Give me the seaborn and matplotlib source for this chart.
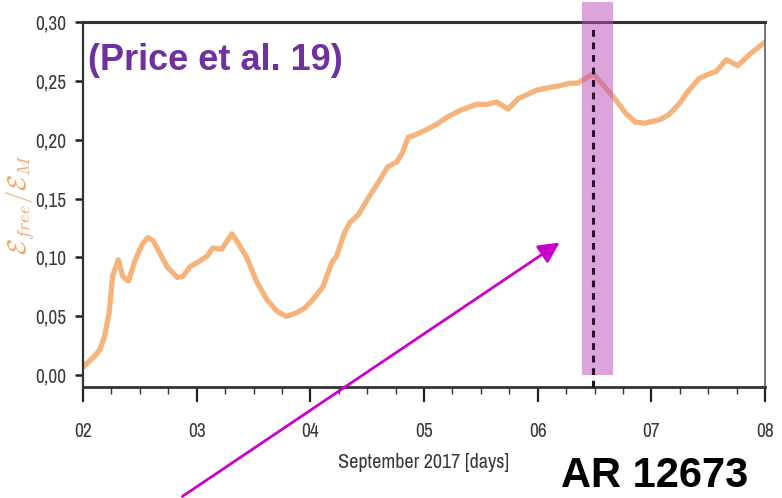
import matplotlib
matplotlib.use("Agg")
import matplotlib.pyplot as plt
from matplotlib.patches import Rectangle, FancyArrowPatch
from matplotlib.ticker import FixedLocator, MultipleLocator
import pandas as pd
import seaborn as sns

# Free-energy ratio of AR 12673, 2-8 September 2017
days = [2.00, 2.10, 2.15, 2.19, 2.23, 2.26, 2.31, 2.35, 2.40, 2.46, 2.52, 2.57,
        2.62, 2.68, 2.74, 2.83, 2.88, 2.94, 3.01, 3.09, 3.14, 3.22, 3.31, 3.36,
        3.44, 3.53, 3.62, 3.71, 3.79, 3.88, 3.95, 4.02, 4.11, 4.19, 4.23, 4.30,
        4.35, 4.42, 4.50, 4.60, 4.68, 4.76, 4.81, 4.86, 4.92, 5.01, 5.11, 5.20,
        5.32, 5.46, 5.55, 5.64, 5.74, 5.83, 5.90, 5.99, 6.08, 6.20, 6.28, 6.35,
        6.49, 6.58, 6.67, 6.77, 6.86, 6.94, 7.07, 7.15, 7.24, 7.33, 7.42, 7.51,
        7.57, 7.66, 7.76, 7.87, 7.95, 8.00]
ratio = [0.007, 0.016, 0.022, 0.033, 0.053, 0.084, 0.098, 0.084, 0.080, 0.098,
         0.111, 0.117, 0.114, 0.103, 0.092, 0.083, 0.084, 0.092, 0.096, 0.101,
         0.108, 0.107, 0.120, 0.113, 0.100, 0.079, 0.064, 0.054, 0.050, 0.053,
         0.057, 0.064, 0.075, 0.096, 0.101, 0.121, 0.130, 0.136, 0.149, 0.164,
         0.177, 0.181, 0.189, 0.202, 0.204, 0.208, 0.213, 0.219, 0.225, 0.230,
         0.230, 0.232, 0.226, 0.235, 0.238, 0.242, 0.244, 0.246, 0.248, 0.248,
         0.256, 0.246, 0.236, 0.223, 0.215, 0.214, 0.217, 0.221, 0.230, 0.242,
         0.252, 0.256, 0.258, 0.268, 0.263, 0.273, 0.279, 0.283]

x_ticks = [2, 3, 4, 5, 6, 7, 8]
x_labels = ["02", "03", "04", "05", "06", "07", "08"]
y_ticks = [0.00, 0.05, 0.10, 0.15, 0.20, 0.25, 0.30]
y_labels = ["0,00", "0,05", "0,10", "0,15", "0,20", "0,25", "0,30"]

flare_window = (6.39, 6.66)
flare_peak = 6.49

sns.set_theme(style="ticks")
narrow = ["Liberation Sans Narrow", "Archivo Narrow", "DejaVu Sans"]
bold_family = ["Liberation Sans", "DejaVu Sans"]
plt.rcParams["font.family"] = narrow
plt.rcParams["mathtext.fontset"] = "cm"

df = pd.DataFrame({"day": days, "ratio": ratio})

fig = plt.figure(figsize=(7.82, 4.98), dpi=100)
ax = fig.add_axes([83 / 782, 111 / 498, 682 / 782, 365 / 498])

line_color = "#F4A460"
sns.lineplot(data=df, x="day", y="ratio", ax=ax, color=line_color,
             linewidth=3.8, alpha=0.82)

ax.set_xlim(2, 8)
ax.set_ylim(-0.010, 0.300)

ax.xaxis.set_major_locator(FixedLocator(x_ticks))
ax.set_xticklabels(x_labels)
ax.xaxis.set_minor_locator(MultipleLocator(0.25))
ax.yaxis.set_major_locator(FixedLocator(y_ticks))
ax.set_yticklabels(y_labels)

tick_col = "#3a3a3a"
ax.tick_params(axis="x", which="major", length=11, width=1.6, color="#222222",
               pad=14, labelsize=14, labelcolor=tick_col)
ax.tick_params(axis="x", which="minor", length=5, width=1.0, color="#333333")
ax.tick_params(axis="y", which="major", length=6, width=1.8, color="#222222",
               pad=6, labelsize=14, labelcolor=tick_col)

for side, lw, col in [("left", 1.6, "#333333"), ("bottom", 2.0, "#333333"),
                      ("top", 2.2, "#333333"), ("right", 1.4, "#777777")]:
    ax.spines[side].set_visible(True)
    ax.spines[side].set_linewidth(lw)
    ax.spines[side].set_color(col)

ax.set_xlabel("September 2017 [days]", fontsize=14.5, color=tick_col)
ax.xaxis.set_label_coords(0.5, -0.182)
ax.set_ylabel(r"$\mathcal{E}_{free}/\mathcal{E}_M$", fontsize=19,
              color="#F2A66A")
ax.yaxis.set_label_coords(-0.068, 0.5)

# Flare window and peak time
ax.add_patch(Rectangle((flare_window[0], 0.0), flare_window[1] - flare_window[0],
                       0.317, facecolor="#B84DB8", alpha=0.5, edgecolor="none",
                       clip_on=False, zorder=3))
ax.plot([flare_peak, flare_peak], [-0.010, 0.296], color="#2a0a2a",
        linewidth=2.2, linestyle=(0, (2.2, 1.9)), zorder=4, clip_on=False)

fig.text(88 / 782, 1 - 61 / 498, "(Price et al. 19)", fontsize=26,
         fontweight="bold", color="#7030A0", ha="left", va="center",
         family=bold_family)
fig.text(561 / 782, 1 - 476 / 498, "AR 12673", fontsize=30,
         fontweight="bold", color="black", ha="left", va="center",
         family=bold_family)

fig.add_artist(FancyArrowPatch(
    (180 / 782, 0.0), (562 / 782, 1 - 241 / 498),
    transform=fig.transFigure, arrowstyle="-|>,head_length=0.9,head_width=0.45",
    mutation_scale=14, color="#CC00CC", linewidth=2.0, clip_on=False, zorder=5))

fig.savefig("out.png", dpi=100)
